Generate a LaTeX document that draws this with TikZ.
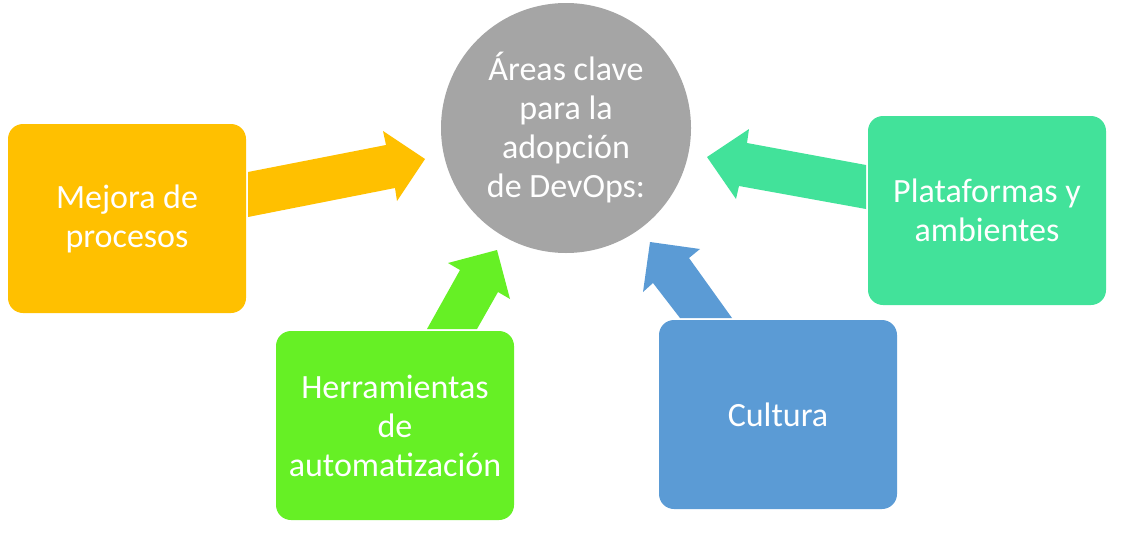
\documentclass[tikz,border=0pt]{standalone}
\usepackage{fontspec}
\setmainfont{Carlito}
\definecolor{cyellow}{HTML}{FFC000}
\definecolor{cgreen}{HTML}{66F025}
\definecolor{cblue}{HTML}{5B9BD5}
\definecolor{cteal}{HTML}{42E29A}
\definecolor{cgray}{HTML}{A5A5A5}
\begin{document}
\begin{tikzpicture}[x=1pt,y=-1pt,
  box/.style={rounded corners=15pt, minimum width=238pt, minimum height=189pt, inner sep=0pt, text=white, align=center, font=\fontsize{34}{39}\selectfont},
  hub/.style={circle, fill=cgray, minimum size=250pt, inner sep=0pt, text=white, align=center, font=\fontsize{34}{39}\selectfont}]
\useasboundingbox (0,0) rectangle (1134,557);
% block arrows
\fill[cyellow] (248,172) -- (386,145) -- (383,131) -- (425,159) -- (397,201) -- (395,188) -- (248,217) -- cycle;
\fill[cgreen] (427,329) -- (460,270) -- (448,263) -- (497,250) -- (510,299) -- (498,292) -- (477,329) -- cycle;
\fill[cblue] (680,318) -- (653,283) -- (643,292) -- (650,242) -- (700,249) -- (689,258) -- (732,318) -- cycle;
\fill[cteal] (866,165) -- (747,143) -- (749,129) -- (707,157) -- (736,199) -- (739,186) -- (866,209) -- cycle;
% nodes
\node[hub] (hub) at (566,128) {Áreas clave\\para la\\adopción\\de DevOps:};
\node[box, fill=cyellow] (mejora) at (127,218.5) {Mejora de\\procesos};
\node[box, fill=cgreen] (herr) at (395,425.5) {Herramientas\\de\\automatización};
\node[box, fill=cblue] (cult) at (778,414.5) {Cultura};
\node[box, fill=cteal] (plat) at (987,210.5) {Plataformas y\\ambientes};
\end{tikzpicture}
\end{document}
